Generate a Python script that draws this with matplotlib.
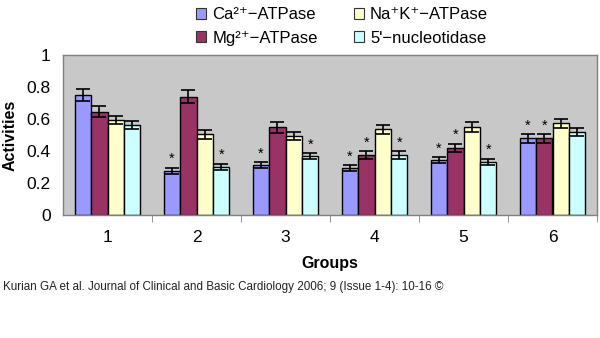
import numpy as np
import matplotlib
matplotlib.use("Agg")
import matplotlib.pyplot as plt
from matplotlib.patches import Patch

plt.rcParams['font.family'] = ['Liberation Sans', 'DejaVu Sans']

# enzyme activities per group (mean, SD)
groups = ['1', '2', '3', '4', '5', '6']
enzymes = ['Ca\u00b2\u207a\u2212ATPase', 'Mg\u00b2\u207a\u2212ATPase',
           'Na\u207aK\u207a\u2212ATPase', "5'\u2212nucleotidase"]
ca = [0.75, 0.275, 0.312, 0.292, 0.344, 0.479]
mg = [0.646, 0.74, 0.548, 0.375, 0.417, 0.479]
nak = [0.594, 0.504, 0.496, 0.535, 0.548, 0.573]
nuc = [0.562, 0.30, 0.369, 0.375, 0.333, 0.517]
ca_sd = [0.04, 0.018, 0.017, 0.018, 0.017, 0.026]
mg_sd = [0.033, 0.04, 0.034, 0.023, 0.026, 0.026]
nak_sd = [0.028, 0.026, 0.026, 0.029, 0.031, 0.026]
nuc_sd = [0.024, 0.018, 0.017, 0.023, 0.018, 0.024]
# significance marks (True = *)
ca_sig = [False, True, True, True, True, True]
mg_sig = [False, False, False, True, True, True]
nak_sig = [False, False, False, False, False, False]
nuc_sig = [False, True, True, True, True, False]

colors = ['#9999FF', '#993366', '#FFFFCC', '#CCFFFF']
series = [ca, mg, nak, nuc]
sds = [ca_sd, mg_sd, nak_sd, nuc_sd]
sigs = [ca_sig, mg_sig, nak_sig, nuc_sig]

fig = plt.figure(figsize=(6, 3.38), dpi=100)
ax = fig.add_axes([0.105, 0.364, 0.89, 0.473])
ax.set_facecolor('#C8C8C8')

x = np.arange(len(groups))
w = 0.185
for i in range(4):
    pos = x + (i - 1.5) * w
    ax.bar(pos, series[i], w, color=colors[i], edgecolor='black', linewidth=1.0, zorder=2)
    ax.errorbar(pos, series[i], yerr=sds[i], fmt='none', ecolor='black',
                elinewidth=1.2, capsize=5, capthick=1.2, zorder=3)
    for j in range(len(groups)):
        if sigs[i][j]:
            ax.text(pos[j], series[i][j] + sds[i][j] + 0.012, '*', ha='center',
                    va='bottom', fontsize=10.5, zorder=4)

ax.set_xlim(-0.5, 5.5)
ax.set_ylim(0, 1)
ax.set_yticks(np.arange(0, 1.01, 0.2))
ax.set_yticklabels(['0', '0.2', '0.4', '0.6', '0.8', '1'])
ax.set_xticks(x)
ax.set_xticklabels(groups)
ax.set_xticks(np.arange(0.5, 5.6, 1), minor=True)
ax.tick_params(axis='x', which='major', length=0, pad=11, labelsize=12.5)
ax.tick_params(axis='x', which='minor', length=5, color='#808080', direction='out')
ax.tick_params(axis='y', length=0, pad=9, labelsize=12.5)
for s in ax.spines.values():
    s.set_color('#808080')
    s.set_linewidth(1.0)

ax.set_xlabel('Groups', fontsize=11.5, fontweight='bold', labelpad=8)
ax.set_ylabel('Activities', fontsize=11.5, fontweight='bold', labelpad=6)

handles = [Patch(facecolor=c, edgecolor='#333333', linewidth=0.8) for c in colors]
fig.legend(handles, enzymes, loc='upper left', bbox_to_anchor=(0.305, 1.018), ncol=2,
           frameon=False, fontsize=12, handlelength=0.6, handleheight=0.6,
           handletextpad=0.35, columnspacing=2.2, labelspacing=0.5, borderpad=0.3)

fig.text(0.005, 0.151, 'Kurian GA et al. Journal of Clinical and Basic Cardiology 2006; 9 (Issue 1-4): 10-16 \u00a9',
         fontsize=8.4, family=['Liberation Sans Narrow', 'Liberation Sans'], va='center', color='#222222')

fig.savefig('out.png', dpi=100)
